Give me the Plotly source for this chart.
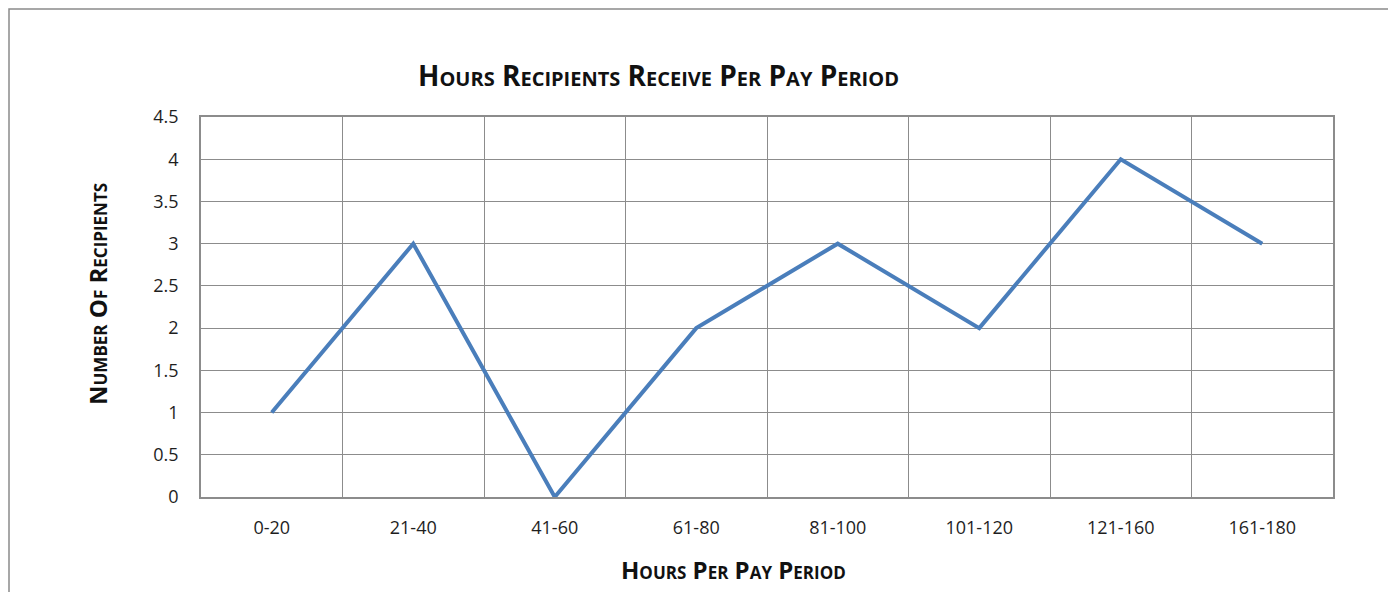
import plotly.graph_objects as go

categories = ["0-20", "21-40", "41-60", "61-80", "81-100", "101-120", "121-160", "161-180"]
recipients = [1, 3, 0, 2, 3, 2, 4, 3]
y_ticks = [0, 0.5, 1, 1.5, 2, 2.5, 3, 3.5, 4, 4.5]
y_tick_labels = ["0", "0.5", "1", "1.5", "2", "2.5", "3", "3.5", "4", "4.5"]

# page body has an 8px margin: figure origin is at page (8, 8)
OFF = 8
W, H = 1396 - OFF, 592 - OFF
L, R, T, B = 201 - OFF, 1333 - OFF, 117 - OFF, 497 - OFF
pw, ph = R - L, B - T

def px(x):
    return (x - OFF - L) / pw

def py(y):
    return (B - (y - OFF)) / ph

fig = go.Figure()
fig.add_trace(go.Scatter(
    x=categories, y=recipients, mode="lines",
    line=dict(color="#4A7EBB", width=4),
    hoverinfo="x+y", showlegend=False,
))

grid = "#8C8C8C"
font_family = "Open Sans, Lato, sans-serif"
tick_font = dict(family=font_family, size=18, color="#1E1E1E")

fig.update_layout(
    width=W, height=H,
    margin=dict(l=L, r=W - R, t=T, b=H - B),
    paper_bgcolor="white", plot_bgcolor="white",
    xaxis=dict(
        type="category", tickson="boundaries", range=[-0.5, 7.5],
        showgrid=True, gridcolor=grid, gridwidth=1.3,
        showline=True, linecolor=grid, linewidth=1.6, mirror=True,
        ticks="", tickfont=tick_font,
        ticklabelstandoff=14,
    ),
    yaxis=dict(
        range=[0, 4.5], tickvals=y_ticks, ticktext=y_tick_labels,
        showgrid=True, gridcolor=grid, gridwidth=1.3,
        showline=True, linecolor=grid, linewidth=1.6, mirror=True,
        zeroline=False, ticks="",
        tickfont=tick_font,
        ticklabelstandoff=17,
    ),
    shapes=[dict(
        type="rect", xref="paper", yref="paper",
        x0=px(OFF + 1), x1=px(1389), y0=py(620), y1=py(9),
        line=dict(color="#8A8A8A", width=1.5), fillcolor="rgba(0,0,0,0)", layer="below",
    )],
    annotations=[
        dict(text="<b>Hours Recipients Receive Per Pay Period</b>", xref="paper", yref="paper",
             x=px(658), y=py(75), showarrow=False, xanchor="center", yanchor="middle",
             font=dict(family=font_family, size=28, color="#111111", variant="small-caps")),
        dict(text="<b>Hours Per Pay Period</b>", xref="paper", yref="paper",
             x=px(733), y=py(569), showarrow=False, xanchor="center", yanchor="middle",
             font=dict(family=font_family, size=24, color="#111111", variant="small-caps")),
        dict(text="<b>Number Of Recipients</b>", xref="paper", yref="paper",
             x=px(97), y=py(294), showarrow=False, xanchor="center", yanchor="middle",
             textangle=-90,
             font=dict(family=font_family, size=24, color="#111111", variant="small-caps")),
    ],
)

fig.write_html("out.html")
